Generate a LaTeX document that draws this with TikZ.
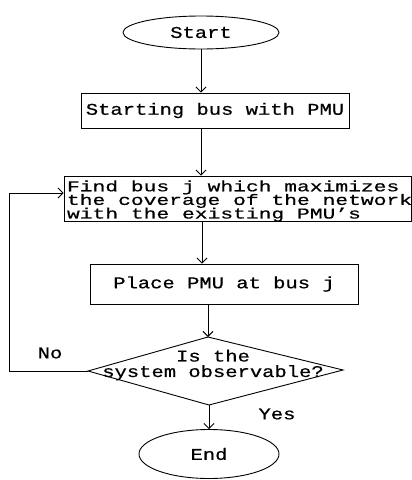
\documentclass[tikz,border=0pt]{standalone}
\usepackage{fontspec}
\newfontfamily\widemono[FakeStretch=1.25,FakeBold=0.6]{Liberation Mono}
\newfontfamily\widermono[FakeStretch=1.42,FakeBold=0.6]{Liberation Mono}
\usetikzlibrary{shapes.geometric,arrows.meta}
\begin{document}
\begin{tikzpicture}[x=1pt,y=-1pt,
  line width=0.9pt,
  txt/.style={font=\widemono\fontsize{16.4}{15.5}\selectfont},
  boxnode/.style={draw, rectangle, inner sep=0pt, txt},
  term/.style={draw, ellipse, inner sep=0pt, txt},
  arr/.style={-{Straight Barb[length=5pt,width=10pt]}}
]
\lineskiplimit=-50pt\relax
\useasboundingbox (0,0) rectangle (412,480);
% terminals
\node[term, minimum width=156pt, minimum height=33pt] (start) at (201,32.5) {Start};
\node[term, minimum width=140pt, minimum height=49pt] (end) at (209,454) {End};
% process boxes
\node[boxnode, minimum width=268pt, minimum height=35pt] (box1) at (215,110.5) {Starting bus with PMU};
\node[boxnode, minimum width=347pt, minimum height=45pt] (box2) at (237.5,198.5) {};
\node[inner sep=0pt, anchor=west, align=left,
      font=\widermono\fontsize{15}{13.6}\selectfont] (box2t) at ([xshift=3pt,yshift=-2.5pt]box2.west)
  {Find bus j which maximizes\\the coverage of the network\\with the existing PMU’s};
\node[boxnode, minimum width=268pt, minimum height=40pt] (box3) at (224,284) {Place PMU at bus j};
% decision
\coordinate (dt) at (208,337);
\coordinate (dr) at (343,370);
\coordinate (db) at (209,405);
\coordinate (dl) at (88,371);
\draw (dt) -- (dr) -- (db) -- (dl) -- cycle;
\node[txt, align=center, inner sep=0pt] (dec) at (213,365) {Is the\\system observable?};
% labels
\node[txt, inner sep=0pt] (no) at (50,353) {No};
\node[txt, inner sep=0pt] (yes) at (277,414) {Yes};
% connectors
\draw[arr] (start.south) -- (start.south |- box1.north);
\draw[arr] (start.south |- box1.south) -- (start.south |- box2.north);
\draw[arr] ([xshift=1pt]start.south |- box2.south) -- ([xshift=1pt]start.south |- box3.north);
\draw[arr] (dt |- box3.south) -- (dt);
\draw[arr] (db) -- (db |- end.north);
\coordinate (lc) at (9,193);
\draw[arr] (dl) -- (lc |- dl) -- (lc) -- (lc -| box2.west);
\end{tikzpicture}
\end{document}
